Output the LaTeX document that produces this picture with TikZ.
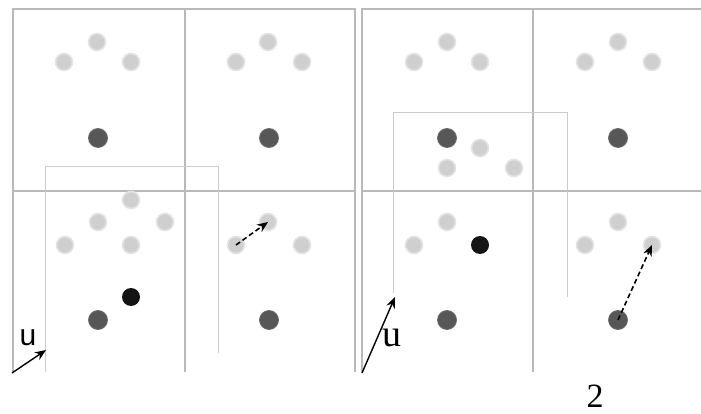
\documentclass[tikz,border=0pt]{standalone}
\usepackage{fontspec}
\setmainfont{Liberation Serif}
\setsansfont{Liberation Sans}
\usetikzlibrary{arrows.meta}
\begin{document}
\begin{tikzpicture}[x=1pt,y=-1pt,
  grid/.style={draw=gray!55,line width=1.2pt},
  offs/.style={draw=gray!40,line width=1pt},
  lightdot/.style={circle,minimum size=17pt,inner sep=0pt,fill=gray!38,draw=gray!22,line width=1.6pt},
  darkdot/.style={circle,minimum size=19pt,inner sep=0pt,fill=black!66,draw=black!58,line width=0.8pt},
  blackdot/.style={circle,minimum size=18pt,inner sep=0pt,fill=black!92},
  dasharrow/.style={dash pattern=on 5pt off 3pt,line width=1.6pt,-{Stealth[length=11pt,width=9pt]}},
  uarrow/.style={line width=1.4pt,-{Stealth[length=11pt,width=9pt]}}]
\useasboundingbox (0,0) rectangle (701,414);
% left panel grid
\draw[grid] (13,372) -- (13,9) -- (355,9) -- (355,372);
\draw[grid] (185,9) -- (185,372);
\draw[grid] (13,191) -- (355,191);
\draw[offs] (45,372) -- (45,167) -- (218,167) -- (218,353);
% right panel grid
\draw[grid] (362,372) -- (362,9) -- (701,9);
\draw[grid] (533,9) -- (533,372);
\draw[grid] (362,191) -- (701,191);
\draw[offs] (393,293) -- (393,113) -- (567,113) -- (567,297);
% left panel dots
\foreach \n/\x/\y in {a1/97/42,a2/64/62,a3/131/62,b1/268/42,b2/236/62,b3/302/62,
  c1/131/200,c2/98/222,c3/165/222,c4/65/245,c5/131/245,
  d1/268/222,d2/236/245,d3/302/245}
  \node[lightdot] (\n) at (\x,\y) {};
\foreach \n/\x/\y in {a0/98/138,b0/269/138,c0/98/320,d0/269/320}
  \node[darkdot] (\n) at (\x,\y) {};
\node[blackdot] (cb) at (131,297) {};
\draw[dasharrow] (d2.center) -- (d1.center);
\coordinate (u1s) at (12,373);
\coordinate (u1e) at (46,350);
\draw[uarrow] (u1s) -- (u1e);
\node[font=\sffamily\fontsize{30}{30}\selectfont,inner sep=0pt] (u1) at (28,338) {u};
% right panel dots
\foreach \n/\x/\y in {e1/447/42,e2/414/62,e3/480/62,f1/618/42,f2/585/62,f3/652/62,
  e5/480/148,e6/447/168,e7/514/168,
  g1/447/222,g2/414/245,h1/618/222,h2/585/245,h3/652/245}
  \node[lightdot] (\n) at (\x,\y) {};
\foreach \n/\x/\y in {e0/447/138,f0/618/138,g0/447/320,h0/618/320}
  \node[darkdot] (\n) at (\x,\y) {};
\node[blackdot] (gb) at (480,245) {};
\draw[dasharrow] (h0.center) -- (h3.center);
\coordinate (u2s) at (362,373);
\coordinate (u2e) at (395,297);
\draw[uarrow] (u2s) -- (u2e);
\node[font=\fontsize{38}{38}\selectfont,inner sep=0pt] (u2) at (392,338) {u};
\node[font=\fontsize{34}{34}\selectfont,inner sep=0pt] (two) at (595,396) {2};
\end{tikzpicture}
\end{document}
